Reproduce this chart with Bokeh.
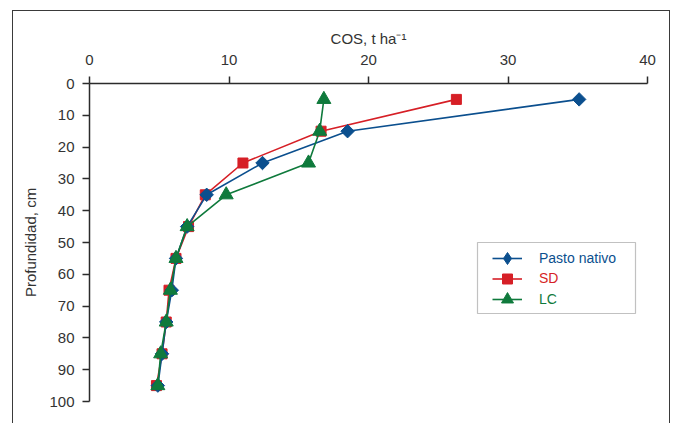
import math
from bokeh.plotting import figure
from bokeh.models import Range1d, FixedTicker, Legend, LegendItem, BoxAnnotation
from bokeh.embed import file_html
from bokeh.resources import INLINE

# ---- data ----
depth = [5, 15, 25, 35, 45, 55, 65, 75, 85, 95]
pasto_nativo = [35.1, 18.5, 12.4, 8.4, 7.0, 6.2, 5.9, 5.5, 5.2, 4.9]
sd = [26.3, 16.6, 11.0, 8.3, 7.1, 6.2, 5.7, 5.5, 5.2, 4.8]
lc = [16.8, 16.5, 15.7, 9.8, 7.0, 6.2, 5.8, 5.5, 5.1, 4.9]
x_ticks = [0, 10, 20, 30, 40]
y_ticks = [0, 10, 20, 30, 40, 50, 60, 70, 80, 90, 100]
series_names = ["Pasto nativo", "SD", "LC"]

BLUE = "#0b4f8e"
RED = "#d61f26"
GREEN = "#0f7a3c"
AXIS = "#2b2b2b"
FONT = "Liberation Sans"

W, H = 658, 413
MB_L, MB_R, MB_T, MB_B = 77, 23, 73, 22

p = figure(width=W, height=H,
           x_range=Range1d(0, 40), y_range=Range1d(100, 0),
           x_axis_location="above",
           output_backend="svg", toolbar_location=None,
           min_border_left=MB_L, min_border_right=MB_R,
           min_border_top=MB_T, min_border_bottom=MB_B)
p.margin = (10, 0, 0, 12)
# outer chart frame: top, left and right edges only (bottom runs off the page)
p.styles = {"box-shadow": "inset 1px 1px 0 0 #3a3a3a, inset -1px 0 0 0 #3a3a3a"}
p.outline_line_color = None
p.xgrid.visible = False
p.ygrid.visible = False
p.background_fill_color = None
p.border_fill_color = None

p.xaxis.ticker = FixedTicker(ticks=x_ticks)
p.yaxis.ticker = FixedTicker(ticks=y_ticks)
p.xaxis.axis_label = "COS, t ha\u207b\u00b9"
p.yaxis.axis_label = "Profundidad, cm"

for ax in (p.xaxis[0], p.yaxis[0]):
    ax.axis_line_color = AXIS
    ax.axis_line_width = 1.5
    ax.major_tick_line_color = AXIS
    ax.major_tick_line_width = 1.5
    ax.major_tick_out = 7
    ax.major_tick_in = 0
    ax.minor_tick_line_color = None
    ax.major_label_text_font = FONT
    ax.major_label_text_font_size = "15px"
    ax.major_label_text_color = "#333333"
    ax.axis_label_text_font = FONT
    ax.axis_label_text_font_size = "15px"
    ax.axis_label_text_font_style = "normal"
    ax.axis_label_text_color = "#333333"

p.xaxis.major_label_standoff = 12
p.xaxis.axis_label_standoff = 5
p.yaxis.major_label_standoff = 8
p.yaxis.axis_label_standoff = 7

# draw order: SD, Pasto nativo, LC
r_sd_l = p.line(sd, depth, line_color=RED, line_width=1.6)
r_sd_m = p.scatter(sd, depth, marker="square", size=10, fill_color=RED, line_color=RED)
r_pn_l = p.line(pasto_nativo, depth, line_color=BLUE, line_width=1.6)
r_pn_m = p.scatter(pasto_nativo, depth, marker="square", angle=math.pi / 4, size=9.5,
                   fill_color=BLUE, line_color=BLUE)
# legend-only glyph (diamond shape for the legend swatch)
r_pn_key = p.scatter(pasto_nativo, depth, marker="diamond", size=13,
                     fill_color=BLUE, line_color=BLUE, visible=False)
r_lc_l = p.line(lc, depth, line_color=GREEN, line_width=1.6)
r_lc_m = p.scatter(lc, depth, marker="triangle", size=14, fill_color=GREEN, line_color=GREEN)

# legend frame
p.add_layout(BoxAnnotation(left=388, right=546, bottom=88, top=159,
                           left_units="screen", right_units="screen",
                           top_units="screen", bottom_units="screen",
                           fill_color=None, line_color="#333333", line_width=1.2))

entries = [
    (series_names[0], [r_pn_l, r_pn_key], BLUE, 143.3, 34),
    (series_names[1], [r_sd_l, r_sd_m], RED, 123.0, 25),
    (series_names[2], [r_lc_l, r_lc_m], GREEN, 102.5, 30),
]
for name, rends, color, yc, h in entries:
    leg = Legend(items=[LegendItem(label=name, renderers=rends)],
                 location=(403, yc - h / 2), margin=0, padding=0, spacing=0,
                 glyph_width=30, glyph_height=h, label_height=h,
                 label_standoff=17,
                 label_text_font=FONT, label_text_font_size="14px",
                 label_text_color=color,
                 background_fill_alpha=0, border_line_color=None)
    p.add_layout(leg)

open("out.html", "w").write(file_html(p, INLINE))
